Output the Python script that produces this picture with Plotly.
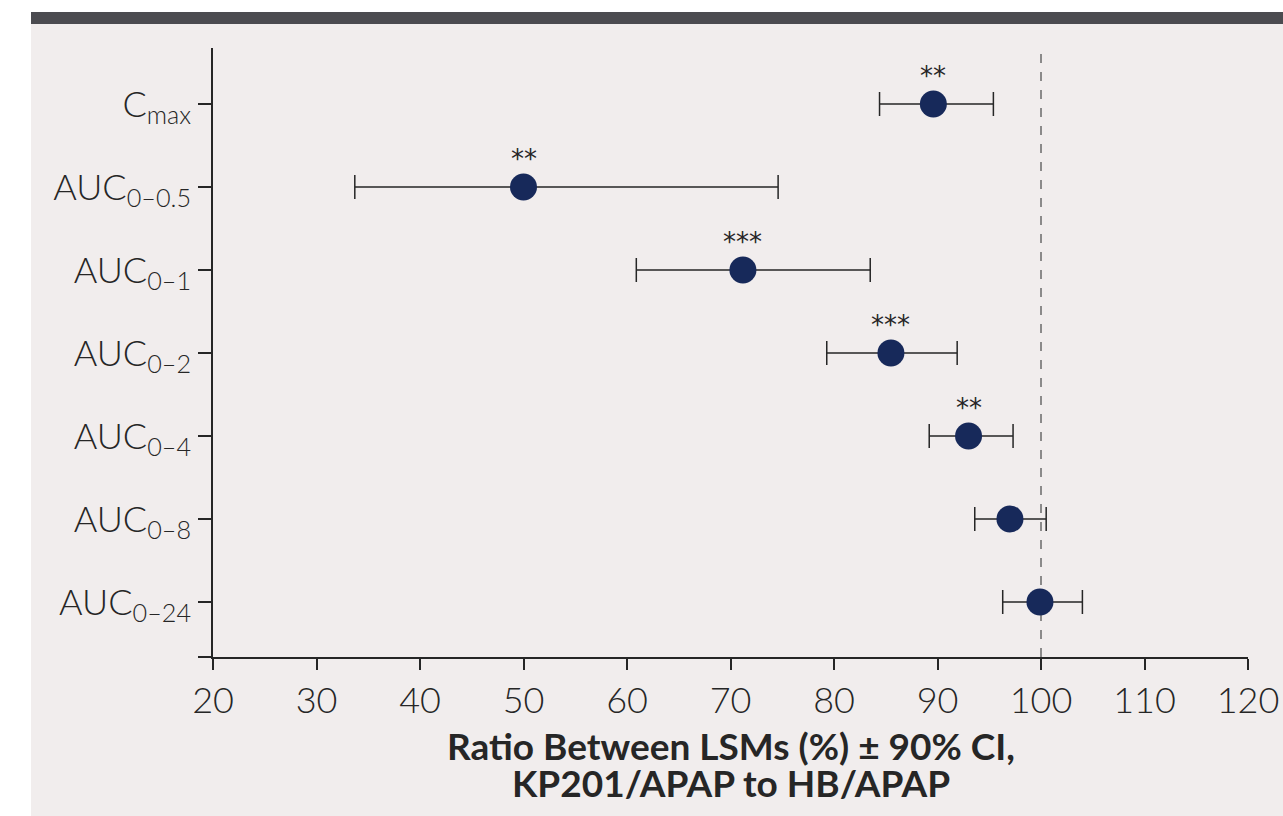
import plotly.graph_objects as go

labels = ["C<sub>max</sub>", "AUC<sub>0–0.5</sub>", "AUC<sub>0–1</sub>", "AUC<sub>0–2</sub>",
          "AUC<sub>0–4</sub>", "AUC<sub>0–8</sub>", "AUC<sub>0–24</sub>"]
ratio = [89.6, 50.0, 71.2, 85.5, 93.0, 97.0, 99.9]
ci_low = [84.4, 33.7, 60.9, 79.3, 89.2, 93.6, 96.3]
ci_high = [95.4, 74.6, 83.5, 91.9, 97.3, 100.5, 104.0]
signif = ["**", "**", "***", "***", "**", "", ""]
x_ticks = [20, 30, 40, 50, 60, 70, 80, 90, 100, 110, 120]
x_title = ["Ratio Between LSMs (%) ± 90% CI,", "KP201/APAP to HB/APAP"]

n = len(labels)
ypos = [n - 1 - i for i in range(n)]

W, H = 1283, 816
L, R, T, B = 213, 35, 48, 159
pw, ph = W - L - R, H - T - B

def px(x):
    return (x - L) / pw

def py(y):
    return (H - B - y) / ph

INK = "#262626"

fig = go.Figure()
fig.add_trace(go.Scatter(
    x=ratio, y=ypos, mode="markers",
    marker=dict(size=27, color="#17295a"),
    error_x=dict(type="data", symmetric=False,
                 array=[h - r for h, r in zip(ci_high, ratio)],
                 arrayminus=[r - l for r, l in zip(ratio, ci_low)],
                 color=INK, thickness=1.5, width=12),
    hoverinfo="skip", showlegend=False,
))

for r, y, s in zip(ratio, ypos, signif):
    if s:
        fig.add_annotation(x=r, y=y, text=s, showarrow=False, yshift=28,
                           font=dict(size=26, color=INK, family="DejaVu Sans"))

# x-axis title lines (baselines at ~763 and ~800 px)
for txt, base in zip(x_title, [763, 800]):
    fig.add_annotation(xref="paper", yref="paper", x=px(731), y=py(base + 7),
                       xanchor="center", yanchor="bottom", showarrow=False,
                       text="<b>" + txt + "</b>",
                       font=dict(size=37, family="Lato", color=INK))

shapes = [
    dict(type="rect", xref="paper", yref="paper", x0=px(31), x1=px(W + 5), y0=py(H + 5), y1=py(24),
         fillcolor="#f1eded", line=dict(width=0), layer="below"),
    dict(type="rect", xref="paper", yref="paper", x0=px(31), x1=px(W + 5), y0=py(24), y1=py(12),
         fillcolor="#4b4b50", line=dict(width=0), layer="below"),
    dict(type="line", xref="x", yref="paper", x0=100, x1=100, y0=0, y1=1,
         line=dict(color="#6a6a6a", width=1.5, dash="dash"), layer="below"),
]

y_lo, y_hi = -0.663, 6.675
fig.update_layout(
    width=W, height=H, autosize=False,
    margin=dict(l=L, r=R, t=T, b=B, autoexpand=False),
    paper_bgcolor="white", plot_bgcolor="rgba(0,0,0,0)",
    shapes=shapes,
    font=dict(family="Lato", color=INK),
    xaxis=dict(range=[20, 120], tickvals=x_ticks, ticks="outside", ticklen=11,
               tickwidth=1.5, tickcolor=INK, showline=True, linewidth=1.5,
               linecolor=INK, showgrid=False, zeroline=False, automargin=False,
               tickfont=dict(size=36, family="Lato", weight=300, color=INK)),
    yaxis=dict(range=[y_lo, y_hi], tickvals=ypos + [y_lo], ticktext=labels + [""],
               ticks="outside", ticklen=13, tickwidth=1.5, tickcolor=INK,
               showline=True, linewidth=1.5, linecolor=INK, showgrid=False,
               zeroline=False, automargin=False,
               tickfont=dict(size=36, family="Lato", weight=300, color=INK)),
)

fig.write_html("out.html",
               config=dict(displayModeBar=False, responsive=False),
               post_script="document.body.style.margin='0';document.body.style.overflow='hidden';")
